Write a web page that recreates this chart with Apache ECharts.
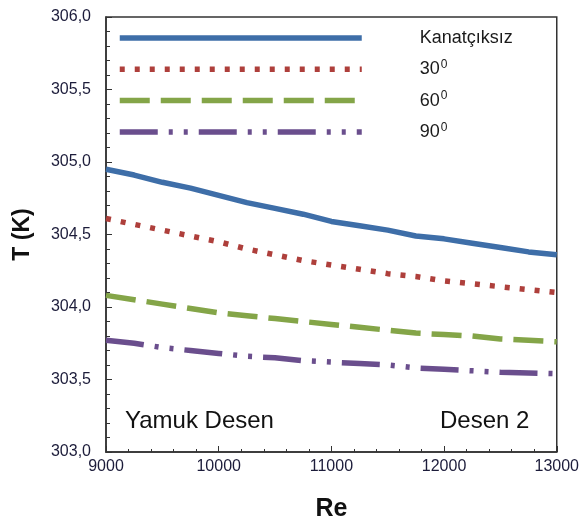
<!DOCTYPE html>
<html>
<head>
<meta charset="utf-8">
<script src="https://cdn.jsdelivr.net/npm/echarts@6/dist/echarts.min.js"></script>
<style>html,body{margin:0;padding:0;background:#fff}#c{width:582px;height:527px}</style>
</head>
<body>
<div id="c"></div>
<script>
var reValues = [9000, 9250, 9500, 9750, 10000, 10250, 10500, 10750, 11000, 11250, 11500, 11750, 12000, 12250, 12500, 12750, 13000];
var seriesNames = ['Kanatçıksız', '30⁰', '60⁰', '90⁰'];
var tKanatciksiz = [304.95, 304.91, 304.86, 304.82, 304.77, 304.72, 304.68, 304.64, 304.59, 304.56, 304.53, 304.49, 304.47, 304.44, 304.41, 304.38, 304.36];
var t30 = [304.61, 304.57, 304.53, 304.49, 304.45, 304.40, 304.36, 304.32, 304.29, 304.26, 304.23, 304.21, 304.18, 304.16, 304.14, 304.12, 304.10];
var t60 = [304.08, 304.05, 304.02, 303.99, 303.96, 303.94, 303.92, 303.90, 303.88, 303.86, 303.84, 303.82, 303.81, 303.80, 303.78, 303.77, 303.76];
var t90 = [303.77, 303.75, 303.72, 303.70, 303.68, 303.66, 303.65, 303.63, 303.62, 303.61, 303.60, 303.58, 303.57, 303.56, 303.55, 303.545, 303.54];
var yTicks = {min: 303, max: 306, step: 0.5};
var xTicks = {min: 9000, max: 13000, step: 1000};
var annotations = ['Yamuk Desen', 'Desen 2'];
var axisTitles = {x: 'Re', y: 'T (K)'};

var colors = ['#3E6EA8', '#AE3F3B', '#84A548', '#6A4E8D'];
var dashes = ['solid', [5, 10], [30, 11], [38, 11, 4, 11, 4, 11]];
var allData = [tKanatciksiz, t30, t60, t90];

function pairs(ys) { return reValues.map(function (x, i) { return [x, ys[i]]; }); }

var sans = '"Liberation Sans", Arial, sans-serif';

var series = seriesNames.map(function (n, i) {
  return {
    name: n, type: 'line', data: pairs(allData[i]), showSymbol: false, symbol: 'none',
    lineStyle: {color: colors[i], width: 5.5, type: dashes[i], cap: 'butt'},
    itemStyle: {color: colors[i]}, animation: false
  };
});

var chart = echarts.init(document.getElementById('c'));
chart.setOption({
  animation: false,
  grid: {left: 106, right: 25, top: 17, bottom: 75, show: true, borderColor: '#333', borderWidth: 1.5, backgroundColor: 'transparent'},
  legend: {
    orient: 'vertical', left: 117, top: 26, padding: 0, itemWidth: 242, itemHeight: 10, itemGap: 7.3,
    data: seriesNames,
    itemStyle: {opacity: 0},
    lineStyle: {width: 5.5, cap: 'butt'},
    formatter: function (name) {
      if (name.indexOf('⁰') >= 0) return '{n|' + name.replace('⁰', '') + '}{s|0}';
      return '{n|' + name + '}';
    },
    textStyle: {
      padding: [0, 0, 0, 53], lineHeight: 24,
      rich: {
        n: {fontFamily: sans, fontSize: 18, color: '#1a1a1a', lineHeight: 24},
        s: {fontFamily: sans, fontSize: 12, color: '#1a1a1a', padding: [0, 0, 9, 1]}
      }
    }
  },
  xAxis: {
    type: 'value', min: xTicks.min, max: xTicks.max, interval: xTicks.step,
    name: axisTitles.x, nameLocation: 'middle', nameGap: 45,
    nameTextStyle: {fontFamily: sans, fontWeight: 'bold', fontSize: 25, color: '#111'},
    axisLine: {show: true, lineStyle: {color: '#333', width: 1.5}},
    axisTick: {show: true, inside: true, length: 6, lineStyle: {color: '#333'}},
    minorTick: {show: true, splitNumber: 5, length: 3, lineStyle: {color: '#333'}},
    splitLine: {show: false},
    axisLabel: {fontFamily: sans, fontSize: 16, color: '#1c1c3a', margin: 7,
      formatter: function (v) { return String(v); }}
  },
  yAxis: {
    type: 'value', min: yTicks.min, max: yTicks.max, interval: yTicks.step,
    name: axisTitles.y, nameLocation: 'middle', nameGap: 72,
    nameTextStyle: {fontFamily: sans, fontWeight: 'bold', fontSize: 23, color: '#111'},
    axisLine: {show: true, lineStyle: {color: '#333', width: 1.5}},
    axisTick: {show: true, inside: true, length: 6, lineStyle: {color: '#333'}},
    minorTick: {show: true, splitNumber: 5, length: 4, lineStyle: {color: '#333'}},
    splitLine: {show: false},
    axisLabel: {fontFamily: sans, fontSize: 16, color: '#1c1c3a', margin: 15,
      formatter: function (v) { return v.toFixed(1).replace('.', ','); }}
  },
  graphic: [
    {type: 'text', left: 125, top: 409, style: {text: annotations[0], fontFamily: sans, fontSize: 24, fill: '#111'}},
    {type: 'text', left: 440, top: 409, style: {text: annotations[1], fontFamily: sans, fontSize: 24, fill: '#111'}}
  ],
  series: series
});
</script>
</body>
</html>
